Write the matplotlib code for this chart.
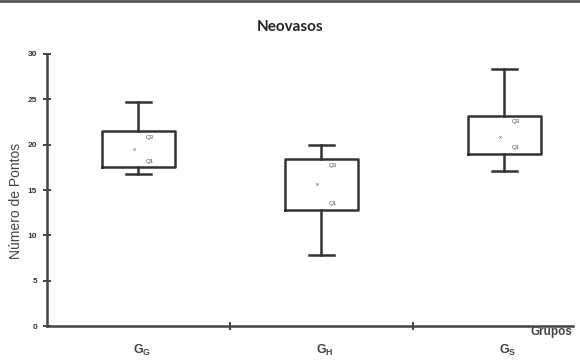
import numpy as np
import matplotlib.pyplot as plt
from matplotlib.lines import Line2D

# Values
groups = [r'G$_\mathregular{G}$', r'G$_\mathregular{H}$', r'G$_\mathregular{S}$']
q1 = [17.5, 12.8, 19.0]
q3 = [21.5, 18.4, 23.2]
whislo = [16.8, 7.8, 17.1]
whishi = [24.7, 20.0, 28.4]
means = [19.5, 15.6, 20.8]

plt.rcParams['font.family'] = ['Liberation Sans', 'DejaVu Sans']

fig = plt.figure(figsize=(5.8, 3.6), dpi=100)
ax = fig.add_axes([0.081, 0.094, 0.907, 0.756])

stats = []
for i in range(len(groups)):
    stats.append({'q1': q1[i], 'q3': q3[i], 'med': means[i], 'mean': means[i],
                  'whislo': whislo[i], 'whishi': whishi[i], 'fliers': []})

line = dict(color='#333333', linewidth=1.8)
ax.bxp(stats, positions=range(len(groups)), widths=0.40, showmeans=False,
       boxprops=line, whiskerprops=line, capprops=line,
       medianprops=dict(visible=False), capwidths=0.14, manage_ticks=False)

for i, m in enumerate(means):
    ax.text(i - 0.02, m, 'x', fontsize=4.5, color='#555555', ha='center', va='center')
    ax.text(i + 0.06, q3[i] - 0.4, 'Q3', fontsize=4.5, color='#555555', ha='center', va='top')
    ax.text(i + 0.06, q1[i] + 0.4, 'Q1', fontsize=4.5, color='#555555', ha='center', va='bottom')

ax.set_xlim(-0.5, 2.375)
ax.set_ylim(0, 30)
ax.set_yticks(np.arange(0, 31, 5))
ax.set_yticklabels([str(v) for v in range(0, 31, 5)], fontsize=6, fontweight='bold', color='#333333')
ax.set_xticks([0.5, 1.5])
ax.set_xticklabels([])
ax.tick_params(axis='both', direction='inout', length=6, width=1.3, color='#333333')
ax.tick_params(axis='y', pad=4)

for i, g in enumerate(groups):
    ax.text(i + 0.02, -0.09, g, transform=ax.get_xaxis_transform(),
            fontsize=9, fontweight='bold', color='#444444', ha='center', va='center')
ax.text(2.37, -0.022, 'Grupos', transform=ax.get_xaxis_transform(),
        fontsize=8.5, fontweight='bold', color='#444444', ha='right', va='center')

ax.set_ylabel('Número de Pontos', fontsize=10, color='#444444')
ax.yaxis.set_label_coords(-0.046, 0.46)

for s in ['top', 'right']:
    ax.spines[s].set_visible(False)
for s in ['left', 'bottom']:
    ax.spines[s].set_linewidth(1.8)
    ax.spines[s].set_color('#444444')

fig.text(0.5, 0.925, 'Neovasos', fontsize=11, fontweight='bold', family='Lato',
         ha='center', va='center', color='#222222')
fig.add_artist(Line2D([0, 1], [0.996, 0.996], transform=fig.transFigure,
                      color='#555555', linewidth=2))

fig.savefig('out.png', dpi=100)
